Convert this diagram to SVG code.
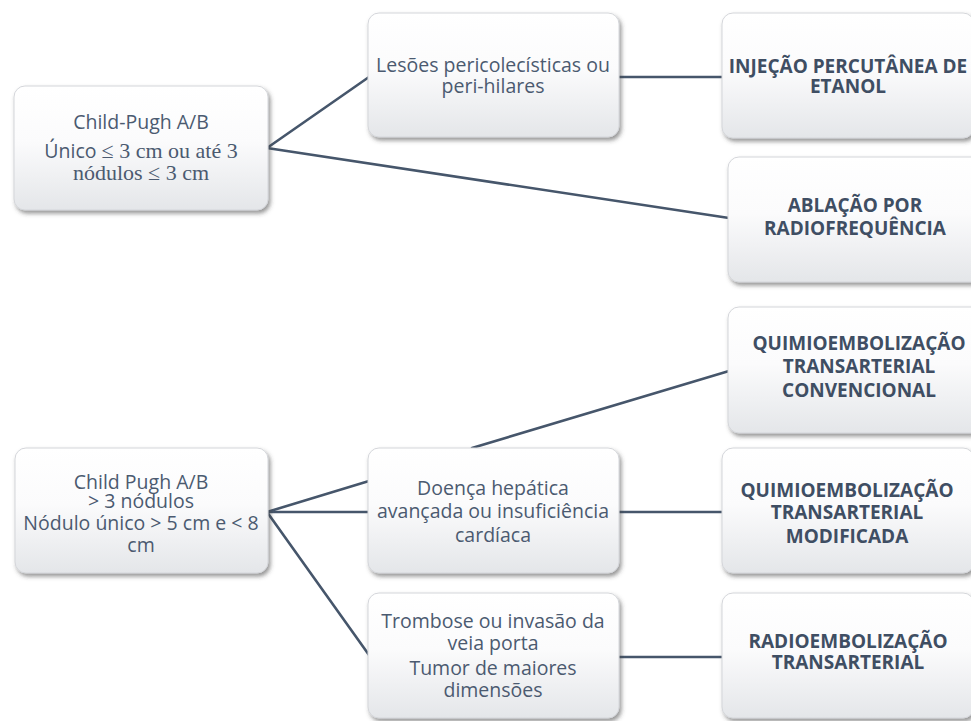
<svg xmlns="http://www.w3.org/2000/svg" width="971" height="721" viewBox="0 0 971 721">
<defs>
<linearGradient id="boxg" x1="0" y1="0" x2="0" y2="1">
<stop offset="0" stop-color="#ffffff"/>
<stop offset="0.45" stop-color="#fbfbfc"/>
<stop offset="1" stop-color="#e4e6e9"/>
</linearGradient>
<filter id="sh" x="-10%" y="-10%" width="125%" height="130%">
<feDropShadow dx="2" dy="3" stdDeviation="2.2" flood-color="#404040" flood-opacity="0.55"/>
</filter>
</defs>
<style>
.box{fill:url(#boxg);stroke:#d4d6da;stroke-width:1;filter:url(#sh)}
.t{font-family:"Open Sans","Noto Sans","DejaVu Sans",sans-serif;font-size:19.5px;fill:#4b5a70;text-anchor:middle}
.s{font-family:"Liberation Serif","Times New Roman",serif;font-size:22px}
.b{font-family:"Open Sans","Noto Sans","DejaVu Sans",sans-serif;font-size:19px;font-weight:bold;fill:#3f4e63;text-anchor:middle}
.c{stroke:#46566b;stroke-width:2.6;fill:none;stroke-linecap:round}
</style>
<rect width="971" height="721" fill="#ffffff"/>
<g id="connectors">
<line class="c" x1="267" y1="148" x2="369" y2="77"/>
<line class="c" x1="267" y1="148" x2="729" y2="218"/>
<line class="c" x1="619" y1="77" x2="723" y2="77"/>
<line class="c" x1="267" y1="512" x2="369" y2="481"/>
<line class="c" x1="267" y1="512" x2="369" y2="512"/>
<line class="c" x1="267" y1="512" x2="369" y2="655"/>
<line class="c" x1="472" y1="448" x2="729" y2="371"/>
<line class="c" x1="619" y1="512" x2="723" y2="512"/>
<line class="c" x1="619" y1="657" x2="723" y2="657"/>
</g>
<g id="n1">
<rect class="box" x="14" y="86" width="254" height="124" rx="11"/>
<text class="t" x="141" y="129">Child-Pugh A/B</text>
<text class="t" x="141" y="158">Único <tspan class="s">≤ 3 cm ou até 3</tspan></text>
<text class="t s" x="141" y="180">nódulos ≤ 3 cm</text>
</g>
<g id="n2">
<rect class="box" x="368" y="13" width="251" height="124" rx="11"/>
<text class="t" x="493" y="72">Lesões pericolecísticas ou</text>
<text class="t" x="493" y="93">peri-hilares</text>
</g>
<g id="n3">
<rect class="box" x="722" y="13" width="252" height="125" rx="11"/>
<text class="b" x="848" y="73">INJEÇÃO PERCUTÂNEA DE</text>
<text class="b" x="848" y="93">ETANOL</text>
</g>
<g id="n4">
<rect class="box" x="728" y="157" width="254" height="125" rx="11"/>
<text class="b" x="855" y="212">ABLAÇÃO POR</text>
<text class="b" x="855" y="235">RADIOFREQUÊNCIA</text>
</g>
<g id="n5">
<rect class="box" x="15" y="448" width="253" height="125" rx="11"/>
<text class="t" x="141" y="489">Child Pugh A/B</text>
<text class="t" x="141" y="508">&gt; 3 nódulos</text>
<text class="t" x="141" y="530">Nódulo único &gt; 5 cm e &lt; 8</text>
<text class="t" x="141" y="552">cm</text>
</g>
<g id="n6">
<rect class="box" x="368" y="448" width="251" height="125" rx="11"/>
<text class="t" x="493" y="495">Doença hepática</text>
<text class="t" x="493" y="518">avançada ou insuficiência</text>
<text class="t" x="493" y="542">cardíaca</text>
</g>
<g id="n7">
<rect class="box" x="368" y="593" width="251" height="125" rx="11"/>
<text class="t" x="493" y="628">Trombose ou invasão da</text>
<text class="t" x="493" y="650">veia porta</text>
<text class="t" x="493" y="675">Tumor de maiores</text>
<text class="t" x="493" y="697">dimensões</text>
</g>
<g id="n8">
<rect class="box" x="728" y="307" width="254" height="126" rx="11"/>
<text class="b" x="859" y="350">QUIMIOEMBOLIZAÇÃO</text>
<text class="b" x="859" y="373">TRANSARTERIAL</text>
<text class="b" x="859" y="397">CONVENCIONAL</text>
</g>
<g id="n9">
<rect class="box" x="722" y="448" width="252" height="125" rx="11"/>
<text class="b" x="847" y="497">QUIMIOEMBOLIZAÇÃO</text>
<text class="b" x="847" y="519">TRANSARTERIAL</text>
<text class="b" x="847" y="543">MODIFICADA</text>
</g>
<g id="n10">
<rect class="box" x="722" y="593" width="252" height="125" rx="11"/>
<text class="b" x="848" y="648">RADIOEMBOLIZAÇÃO</text>
<text class="b" x="848" y="669">TRANSARTERIAL</text>
</g>
</svg>
